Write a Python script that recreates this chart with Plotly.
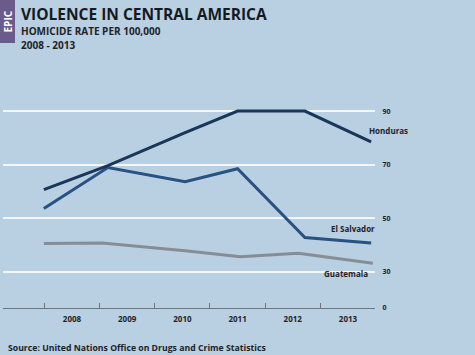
import plotly.graph_objects as go

# Data (x positions in year units as drawn, values = homicide rate per 100,000)
years = [2008, 2009, 2010, 2011, 2012, 2013]
year_labels = ["2008", "2009", "2010", "2011", "2012", "2013"]
point_x = [2007.49, 2008.65, 2010.05, 2011.0, 2012.22, 2013.42]
honduras = [60.7, 69.6, 82.0, 90.0, 90.0, 78.5]
el_salvador = [53.6, 68.9, 63.6, 68.5, 42.8, 40.8]
guatemala_x = [2007.49, 2008.55, 2010.05, 2011.05, 2012.1, 2013.45]
guatemala = [40.6, 40.8, 37.9, 35.6, 36.9, 33.2]
y_tickvals = [16.5, 30, 50, 70, 90]
y_ticktext = ["0", "30", "50", "70", "90"]

BG = "#b9cfe2"
TXT = "#1e2328"
FONT = "Open Sans"

fig = go.Figure()
fig.add_trace(go.Scatter(x=guatemala_x, y=guatemala, mode="lines",
                         line=dict(color="#878d94", width=3), name="Guatemala"))
fig.add_trace(go.Scatter(x=point_x, y=el_salvador, mode="lines",
                         line=dict(color="#275282", width=3), name="El Salvador"))
fig.add_trace(go.Scatter(x=point_x, y=honduras, mode="lines",
                         line=dict(color="#1a3658", width=3), name="Honduras"))

L, T, PW, PH = 3, 95, 372, 213  # plot area in pixels

def px(xp):
    return (xp - L) / PW

def py(yp):
    return 1 - (yp - T) / PH

fig.update_layout(
    width=475, height=355,
    margin=dict(l=L, r=475 - L - PW, t=T, b=355 - T - PH),
    paper_bgcolor=BG, plot_bgcolor=BG,
    showlegend=False,
    font=dict(family=FONT, color=TXT),
    xaxis=dict(
        range=[2006.75, 2013.49], tickvals=years,
        ticktext=["<b>%s</b>" % t for t in year_labels],
        ticks="", showgrid=False, zeroline=False,
        showline=True, linecolor="#6e7780", linewidth=1.2,
        tickfont=dict(size=8, color=TXT, family=FONT),
        ticklabelstandoff=3,
        minor=dict(tickvals=[2007.5, 2008.5, 2009.5, 2010.5, 2011.5, 2012.5],
                   ticks="inside", ticklen=5, tickcolor="#6e7780", tickwidth=1,
                   showgrid=False),
        fixedrange=True,
    ),
    yaxis=dict(
        range=[16.5, 96], side="right", tickvals=y_tickvals,
        ticktext=["<b>%s</b>" % t for t in y_ticktext],
        showgrid=True, gridcolor="#f4f7fa", gridwidth=2, zeroline=False,
        ticks="outside", ticklen=5, tickcolor="rgba(0,0,0,0)",
        tickfont=dict(size=7, color=TXT, family=FONT),
        showline=False, fixedrange=True,
    ),
)

# EPIC side tab
fig.add_shape(type="rect", xref="paper", yref="paper",
              x0=px(0), x1=px(15), y0=py(43), y1=py(0),
              fillcolor="#6b5a8c", line_width=0, layer="below")
fig.add_annotation(xref="paper", yref="paper", x=px(7.5), y=py(22),
                   xanchor="center", yanchor="middle",
                   text="<b>EPIC</b>", textangle=-90, showarrow=False,
                   font=dict(size=10, color="white", family=FONT))

# Titles
fig.add_annotation(xref="paper", yref="paper", x=px(19), y=py(1),
                   xanchor="left", yanchor="top", showarrow=False,
                   text="<b>VIOLENCE IN CENTRAL AMERICA</b>",
                   font=dict(size=15.5, color="#151a1f", family=FONT))
fig.add_annotation(xref="paper", yref="paper", x=px(19), y=py(22),
                   xanchor="left", yanchor="top", showarrow=False,
                   text="<b>HOMICIDE RATE PER 100,000</b>",
                   font=dict(size=10, color=TXT, family=FONT))
fig.add_annotation(xref="paper", yref="paper", x=px(19), y=py(36),
                   xanchor="left", yanchor="top", showarrow=False,
                   text="<b>2008 - 2013</b>",
                   font=dict(size=10, color=TXT, family=FONT))

# Series labels
fig.add_annotation(xref="paper", yref="paper", x=px(388), y=py(130),
                   xanchor="center", yanchor="middle",
                   text="<b>Honduras</b>", showarrow=False,
                   font=dict(size=8, color=TXT, family=FONT))
fig.add_annotation(xref="paper", yref="paper", x=px(353), y=py(228),
                   xanchor="center", yanchor="middle",
                   text="<b>El Salvador</b>", showarrow=False,
                   font=dict(size=8, color=TXT, family=FONT))
fig.add_annotation(xref="paper", yref="paper", x=px(346), y=py(273),
                   xanchor="center", yanchor="middle",
                   text="<b>Guatemala</b>", showarrow=False,
                   font=dict(size=8, color=TXT, family=FONT))

# Source
fig.add_annotation(xref="paper", yref="paper", x=px(6), y=py(348),
                   xanchor="left", yanchor="middle", showarrow=False,
                   text="<b>Source: United Nations Office on Drugs and Crime Statistics</b>",
                   font=dict(size=8.7, color=TXT, family=FONT))

fig.write_html("out.html", config={"displayModeBar": False},
               post_script="document.body.style.margin='0';")
